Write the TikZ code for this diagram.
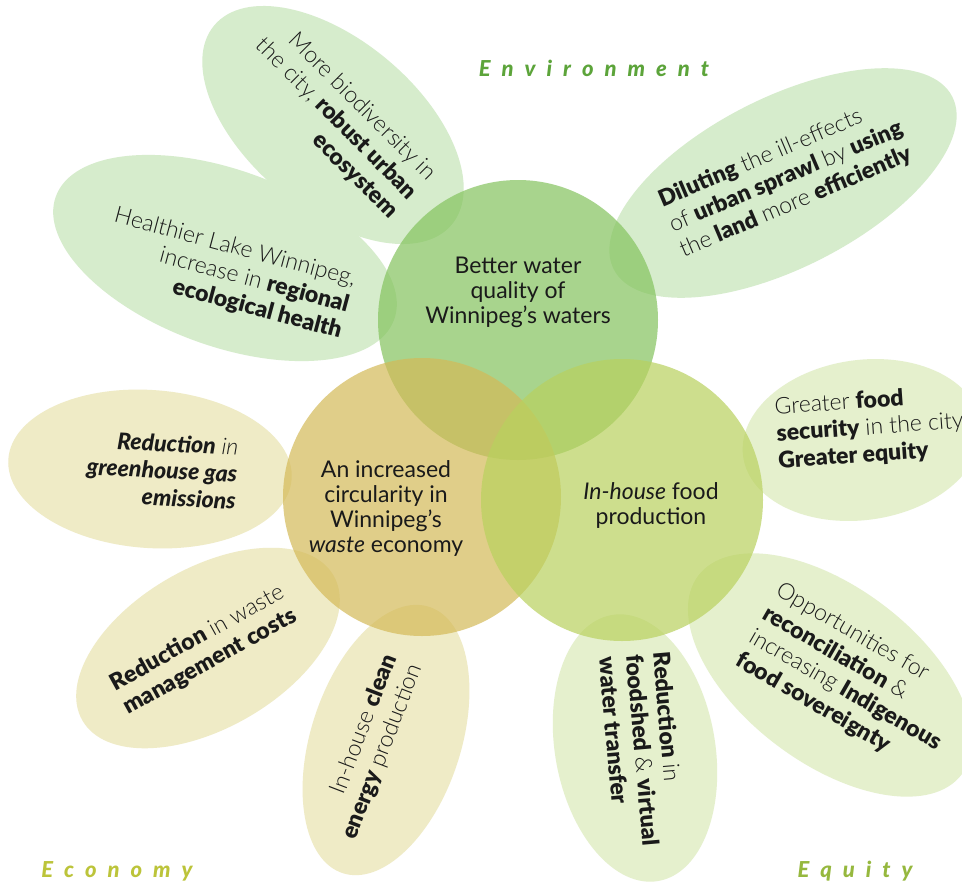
\documentclass[tikz,border=0pt]{standalone}
\usepackage{fontspec}
\setmainfont{Lato}[BoldFont={Lato Black}, BoldItalicFont={Lato Black Italic}]
\newfontfamily\lightfont{Lato Light}
\usetikzlibrary{shapes.geometric}

\definecolor{envpetal}{RGB}{214,236,204}
\definecolor{ecopetal}{RGB}{239,235,198}
\definecolor{equpetal}{RGB}{229,240,205}
\definecolor{watercol}{RGB}{132,195,94}
\definecolor{wastecol}{RGB}{212,186,88}
\definecolor{foodcol}{RGB}{185,209,94}
\definecolor{envlabel}{RGB}{92,164,58}
\definecolor{ecolabel}{RGB}{188,196,58}
\definecolor{equlabel}{RGB}{150,184,62}
\definecolor{ink}{RGB}{26,26,26}

\newcommand{\lite}[1]{{\lightfont #1}}
\newcommand{\hvy}[1]{\textbf{#1}}
\newcommand{\ls}{\hspace{11pt}}

\tikzset{
  petal/.style={ellipse, draw=none, inner sep=0pt, outer sep=0pt},
  hub/.style={circle, draw=none, inner sep=0pt, outer sep=0pt, fill opacity=0.7},
  hubtext/.style={text=ink, align=center, font=\fontsize{23}{25}\selectfont},
  petaltext/.style={text=ink, inner sep=0pt, font=\fontsize{23}{27}\selectfont},
  pillar/.style={font=\fontsize{22}{24}\selectfont\bfseries\itshape}
}

\begin{document}
\begin{tikzpicture}[x=1pt, y=-1pt]
\useasboundingbox (0,0) rectangle (962,884);
\fill[white] (0,0) rectangle (962,884);
\clip (0,0) rectangle (962,884);

% petals
\node[petal, fill=envpetal, minimum width=310pt, minimum height=170pt, rotate=-40] (pbio) at (333,125) {};
\node[petal, fill=envpetal, minimum width=360pt, minimum height=176pt, rotate=-20] (pheal) at (225,258) {};
\node[petal, fill=envpetal, minimum width=380pt, minimum height=170pt, rotate=27] (pdil) at (783,183) {};
\node[petal, fill=ecopetal, minimum width=284pt, minimum height=158pt, rotate=-4] (pghg) at (150,469) {};
\node[petal, fill=ecopetal, minimum width=290pt, minimum height=160pt, rotate=30] (pcost) at (208,648) {};
\node[petal, fill=ecopetal, minimum width=280pt, minimum height=150pt, rotate=72] (penergy) at (386,740) {};
\node[petal, fill=equpetal, minimum width=240pt, minimum height=160pt, rotate=8] (pfoodsec) at (862,440) {};
\node[petal, fill=equpetal, minimum width=270pt, minimum height=160pt, rotate=-80] (pshed) at (635,748) {};
\node[petal, fill=equpetal, minimum width=330pt, minimum height=176pt, rotate=-37] (precon) at (830,675) {};

% the three overlapping hubs
\node[hub, fill=watercol, minimum size=280pt] (water) at (518,320) {};
\node[hub, fill=wastecol, minimum size=278pt] (waste) at (422,497) {};
\node[hub, fill=foodcol, minimum size=282pt] (food) at (622,500) {};

% hub texts
\node[hubtext] (twater) at (518,292) {Better water\\quality of\\Winnipeg’s waters};
\node[hubtext] (twaste) at (386,508) {An increased\\circularity in\\Winnipeg’s\\\textit{waste} economy};
\node[hubtext] (tfood) at (651,505) {\textit{In-house} food\\production};

% petal texts
\node[petaltext, align=right, rotate=-45] (tbio) at (336,119)
  {\lite{More biodiversity in}\\\lite{the city,} \hvy{robust urban}\\\hvy{ecosystem}};
\node[petaltext, align=right, rotate=-15] (theal) at (228,274)
  {\lite{Healthier Lake Winnipeg,}\\\lite{increase in} \hvy{regional}\\\hvy{ecological health}};
\node[petaltext, align=left, rotate=23] (tdil) at (786,177)
  {\hvy{Diluting} \lite{the ill-effects}\\\lite{of} \hvy{urban sprawl} \lite{by} \hvy{using}\\\lite{the} \hvy{land} \lite{more} \hvy{efficiently}};
\node[petaltext, align=right, rotate=-3] (tghg) at (162,470)
  {\hvy{\itshape Reduction} {\lightfont\itshape in}\\\hvy{\itshape greenhouse gas}\\\hvy{\itshape emissions}};
\node[petaltext, align=left, rotate=4] (tfoodsec) at (870,428)
  {\lite{Greater} \hvy{food}\\\hvy{security} \lite{in the city}\\\hvy{Greater equity}};
\node[petaltext, align=left, rotate=29] (tcost) at (204,650)
  {\hvy{Reduction} \lite{in waste}\\\hvy{management costs}};
\node[petaltext, align=right, rotate=69] (tenergy) at (370,747)
  {\lite{In-house} \hvy{clean}\\\hvy{energy} \lite{production}};
\node[petaltext, align=left, rotate=-85] (tshed) at (643,750)
  {\hvy{Reduction} \lite{in}\\\hvy{foodshed} \lite{\&} \hvy{virtual}\\\hvy{water transfer}};
\node[petaltext, align=left, rotate=-30] (trecon) at (852,679)
  {\lite{Opportunities for}\\\hvy{reconciliation} \lite{\&}\\\lite{increasing} \hvy{Indigenous}\\\hvy{food sovereignty}};

% pillar labels
\node[pillar, text=envlabel] (lenv) at (594,68) {E\ls n\ls v\ls i\ls r\ls o\ls n\ls m\ls e\ls n\ls t};
\node[pillar, text=ecolabel] (leco) at (117,871) {E\ls c\ls o\ls n\ls o\ls m\ls y};
\node[pillar, text=equlabel] (lequ) at (855,871) {E\ls q\ls u\ls i\ls t\ls y};
\end{tikzpicture}
\end{document}
